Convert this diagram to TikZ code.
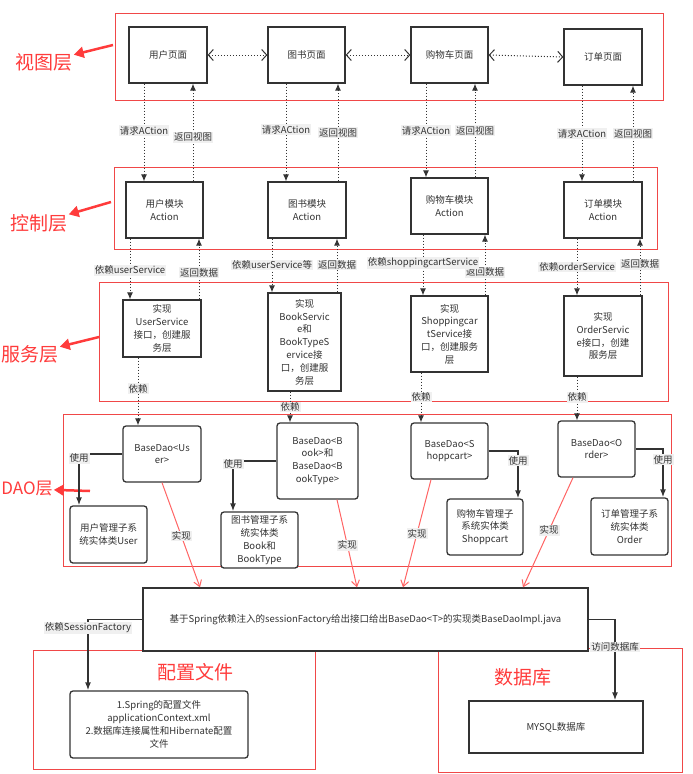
\documentclass[tikz,border=0pt]{standalone}
\usepackage{fontspec}
\setmainfont{Noto Sans CJK SC}
\usetikzlibrary{arrows.meta}

\definecolor{boxline}{HTML}{333333}
\definecolor{layerred}{HTML}{F04848}
\definecolor{titlered}{HTML}{FF3B3B}
\definecolor{implred}{HTML}{FF6464}

\tikzset{
 box/.style={draw=boxline,line width=1.3pt,fill=white,text=boxline,align=center,inner sep=1pt,
  minimum width=77pt,minimum height=56pt,font=\fontsize{9.5}{12.8}\selectfont},
 rbox/.style={box,rounded corners=3pt},
 lbl/.style={fill=gray!12,text=boxline,inner sep=1pt,font=\fontsize{9.5}{11}\selectfont},
 req/.style={boxline,dotted,line width=1pt,-{Latex[length=7pt,width=6pt]}},
 dbl/.style={boxline,dotted,line width=1pt,{Straight Barb[length=5pt,width=11pt]}-{Straight Barb[length=5pt,width=11pt]}},
 usearrow/.style={boxline,line width=1.5pt,-{Latex[length=8pt,width=6pt]}},
 implarrow/.style={implred,line width=1pt,-{Straight Barb[length=6pt,width=8pt]}},
 layerbox/.style={draw=layerred,line width=0.8pt},
 ttl/.style={text=titlered,font=\fontsize{19}{22}\selectfont,inner sep=1pt},
 pointer/.style={titlered,line width=2.5pt,-{Triangle[length=10pt,width=11pt]}}
}

\begin{document}
\begin{tikzpicture}[x=1pt,y=-1pt]
 \useasboundingbox (0,0) rectangle (693,774);
 \draw[layerbox] (115,13) rectangle (663,100);
 \draw[layerbox] (114,167) rectangle (657,249);
 \draw[layerbox] (99,282) rectangle (668,401);
 \draw[layerbox] (63,414) rectangle (671,566);
 \draw[layerbox] (33,650) rectangle (315,769);
 \draw[layerbox] (438,648) rectangle (682,772);

 \node[ttl] (viewttl) at (44,62) {视图层};
 \node[ttl] (ctrlttl) at (39,223) {控制层};
 \node[ttl] (svcttl) at (30,354) {服务层};
 \node[ttl,font=\fontsize{17}{20}\selectfont] (daottl) at (27,489) {DAO层};
 \node[ttl] (confttl) at (195,672) {配置文件};
 \node[ttl] (dbttl) at (523,677) {数据库};
 \coordinate (viewtip) at (113,45);
 \coordinate (ctrltip) at (111,202);
 \coordinate (svctip) at (99,337);
 \coordinate (daotip) at (90,491);
 \draw[pointer] (viewtip) -- (viewttl);
 \draw[pointer] (ctrltip) -- (ctrlttl);
 \draw[pointer] (svctip) -- (svcttl);
 \draw[pointer] (daotip) -- (daottl);

 \node[box,minimum width=78pt] (v1) at (168,55) {用户页面};
 \node[box] (v2) at (306.5,55) {图书页面};
 \node[box] (v3) at (449.5,55) {购物车页面};
 \node[box,minimum width=78pt] (v4) at (603,57) {订单页面};
 \draw[dbl] (v1) -- (v2);
 \draw[dbl] (v2) -- (v3);
 \draw[dbl] (v3.east) -- (v4.west);

 \node[box] (c1) at (164.5,210) {用户模块\\Action};
 \node[box,minimum width=78pt] (c2) at (307,210) {图书模块\\Action};
 \node[box] (c3) at (449.5,206) {购物车模块\\Action};
 \node[box,minimum width=78pt] (c4) at (603,210) {订单模块\\Action};

 \node[box,minimum width=78pt,minimum height=57pt] (s1) at (162,328.5) {实现\\UserService\\接口，创建服\\务层};
 \node[box,minimum width=73pt,minimum height=98pt] (s2) at (304.5,342) {实现\\BookServic\\e和\\BookTypeS\\ervice接\\口，创建服\\务层};
 \node[box,minimum height=76pt] (s3) at (449.5,334) {实现\\Shoppingcar\\tService接\\口，创建服务\\层};
 \node[box,minimum width=78pt,minimum height=80pt] (s4) at (603,336) {实现\\OrderServic\\e接口，创建\\服务层};

 \node[rbox,minimum width=78pt] (d1) at (162,454) {BaseDao<Us\\er>};
 \node[rbox,minimum width=81pt,minimum height=76pt] (d2) at (317.5,461) {BaseDao<B\\ook>和\\BaseDao<B\\ookType>};
 \node[rbox] (d3) at (449.5,451) {BaseDao<S\\hoppcart>};
 \node[rbox] (d4) at (596.5,449) {BaseDao<O\\rder>};

 \node[rbox,minimum height=57pt] (e1) at (108.5,534.5) {用户管理子系\\统实体类User};
 \node[rbox] (e2) at (259.5,540) {图书管理子系\\统实体类\\Book和\\BookType};
 \node[rbox,minimum width=76pt] (e3) at (485,527) {购物车管理子\\系统实体类\\Shoppcart};
 \node[rbox,minimum height=57pt] (e4) at (629.5,526.5) {订单管理子系\\统实体类\\Order};

 \node[box,minimum width=445pt,minimum height=63pt] (daoimpl) at (365.5,619.5) {基于Spring依赖注入的sessionFactory给出接口给出BaseDao<T>的实现类BaseDaoImpl.java};
 \node[rbox,minimum width=178pt,minimum height=67pt] (conf) at (159,724.5) {1.Spring的配置文件\\applicationContext.xml\\2.数据库连接属性和Hibernate配置\\文件};
 \node[box,minimum width=174pt,minimum height=52pt] (db) at (556,727) {MYSQL数据库};

 \draw[req] (144,0 |- v1.south) -- (144,0 |- c1.north) node[lbl,pos=.48]{请求ACtion};
 \draw[req] (193,0 |- c1.north) -- (193,0 |- v1.south) node[lbl,pos=.45]{返回视图};
 \draw[req] (286,0 |- v2.south) -- (286,0 |- c2.north) node[lbl,pos=.47]{请求ACtion};
 \draw[req] (338,0 |- c2.north) -- (338,0 |- v2.south) node[lbl,pos=.5]{返回视图};
 \draw[req] (426,0 |- v3.south) -- (426,0 |- c3.north) node[lbl,pos=.5]{请求ACtion};
 \draw[req] (475,0 |- c3.north) -- (475,0 |- v3.south) node[lbl,pos=.5]{返回视图};
 \draw[req] (582,0 |- v4.south) -- (582,0 |- c4.north) node[lbl,pos=.5]{请求ACtion};
 \draw[req] (633,0 |- c4.north) -- (633,0 |- v4.south) node[lbl,pos=.5]{返回视图};

 \draw[req] (130,0 |- c1.south) -- (130,0 |- s1.north) node[lbl,pos=.52]{依赖userService};
 \draw[req] (199,0 |- s1.north) -- (199,0 |- c1.south) node[lbl,pos=.44]{返回数据};
 \draw[req] (337,0 |- s2.north) -- (337,0 |- c2.south) node[lbl,pos=.51]{返回数据};
 \draw[req] (272,0 |- c2.south) -- (272,0 |- s2.north) node[lbl,pos=.49]{依赖userService等};
 \draw[req] (485,0 |- s3.north) -- (485,0 |- c3.south) node[lbl,pos=.38]{返回数据};
 \draw[req] (423,0 |- c3.south) -- (423,0 |- s3.north) node[lbl,pos=.47]{依赖shoppingcartService};
 \draw[req] (577,0 |- c4.south) -- (577,0 |- s4.north) node[lbl,pos=.5]{依赖orderService};
 \draw[req] (640,0 |- s4.north) -- (640,0 |- c4.south) node[lbl,pos=.55]{返回数据};

 \draw[req] (138,0 |- s1.south) -- (138,0 |- d1.north) node[lbl,pos=.46]{依赖};
 \draw[req] (290,0 |- s2.south) -- (290,0 |- d2.north) node[lbl,pos=.5]{依赖};
 \draw[req] (421,0 |- s3.south) -- (421,0 |- d3.north) node[lbl,pos=.49]{依赖};
 \draw[req] (577,0 |- s4.south) -- (577,0 |- d4.north) node[lbl,pos=.47]{依赖};

 \draw[usearrow] (d1.west) -| (79,0 |- e1.north) node[lbl,pos=.54]{使用};
 \draw[usearrow] (d2.west) -| (233,0 |- e2.north) node[lbl,pos=.53]{使用};
 \draw[usearrow] (d3.east) -| (518,0 |- e3.north) node[lbl,pos=.6]{使用};
 \draw[usearrow] (d4.east) -| (663,0 |- e4.north) node[lbl,pos=.61]{使用};

 \draw[implarrow] (162,0 |- d1.south) -- (200,0 |- daoimpl.north) node[lbl,pos=.51]{实现};
 \draw[implarrow] (337,0 |- d2.south) -- (357,0 |- daoimpl.north) node[lbl,pos=.52]{实现};
 \draw[implarrow] (431,0 |- d3.south) -- (403,0 |- daoimpl.north) node[lbl,pos=.5]{实现};
 \draw[implarrow] (573,0 |- d4.south) -- (523,0 |- daoimpl.north) node[lbl,pos=.48]{实现};

 \draw[usearrow] (daoimpl.west) -| (88,0 |- conf.north) node[lbl,pos=.56]{依赖SessionFactory};
 \draw[usearrow] (daoimpl.east) -| (615,0 |- db.north) node[lbl,pos=.67]{访问数据库};
\end{tikzpicture}
\end{document}
